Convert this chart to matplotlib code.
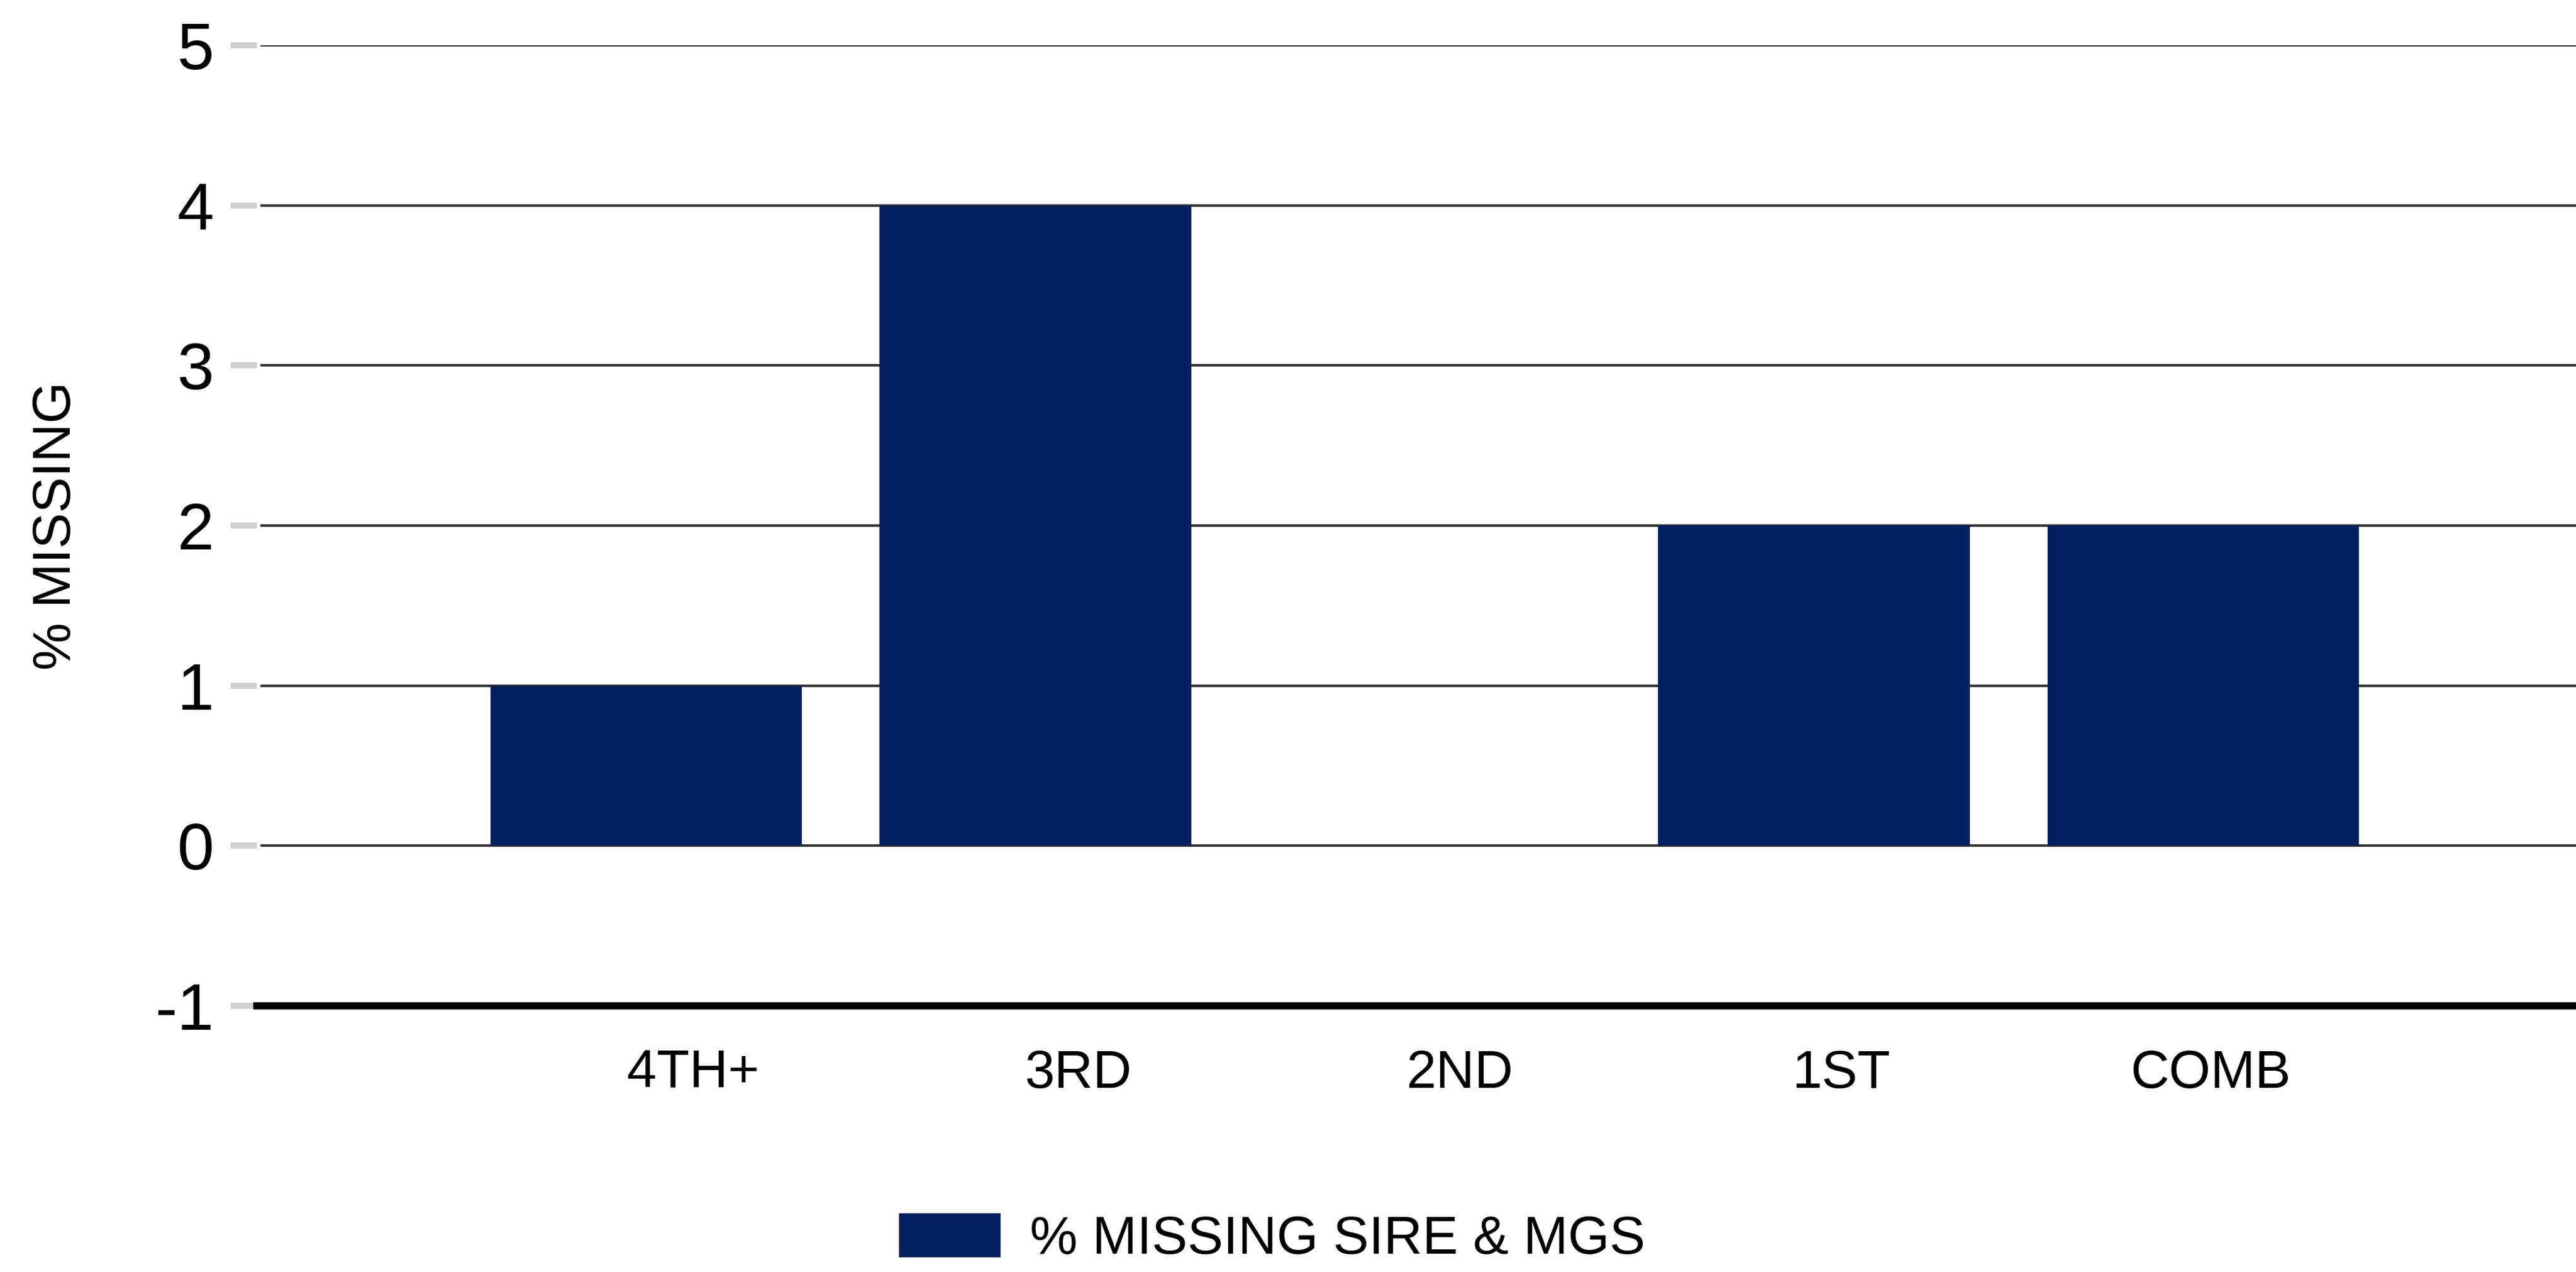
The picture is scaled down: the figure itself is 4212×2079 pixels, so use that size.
import matplotlib
matplotlib.use("Agg")
import matplotlib.pyplot as plt
import numpy as np

# ---- data ----
categories = ["4TH+", "3RD", "2ND", "1ST", "COMB"]
pct_missing = [1, 4, 0, 2, 2]
series_name = "% MISSING SIRE & MGS"
y_ticks = [-1, 0, 1, 2, 3, 4, 5]
y_label = "% MISSING"

# ---- style ----
plt.rcParams["font.family"] = ["Liberation Sans", "DejaVu Sans"]
BAR_COLOR = "#002060"
W, H, DPI = 4212, 2079, 300

fig = plt.figure(figsize=(W / DPI, H / DPI), dpi=DPI)
fig.patch.set_facecolor("white")

left_px, slot_px = 420, 636.5
ax = fig.add_axes([left_px / W, 1 - 1644 / H, 6 * slot_px / W, (1644 - 74) / H])

x = np.arange(1, len(categories) + 1)
ax.bar(x, pct_missing, width=0.8, color=BAR_COLOR, label=series_name, zorder=3)

ax.set_xlim(0, 6)
ax.set_ylim(-1, 5)

# gridlines (slight gap from tick marks)
for yv in y_ticks[1:]:
    ax.axhline(yv, xmin=0.002, xmax=1, color="#333333", lw=1.0, zorder=2)

# spines
for s in ["top", "right", "left"]:
    ax.spines[s].set_visible(False)
ax.spines["bottom"].set_color("black")
ax.spines["bottom"].set_linewidth(2.8)
ax.spines["bottom"].set_zorder(4)

ax.set_yticks(y_ticks)
ax.set_yticklabels([str(v) for v in y_ticks])
ax.tick_params(axis="y", length=10.3, width=2.4, color="#d0d0d0",
               pad=6.5, labelsize=26, labelcolor="black")

# category labels (slightly offset in the original rendering)
label_shift = [0.12, 0.11, 0.09, 0.07, 0.02]
ax.set_xticks(x + np.array(label_shift))
ax.set_xticklabels(categories)
ax.tick_params(axis="x", length=0, pad=17, labelsize=21, labelcolor="black")

ax.set_ylabel(y_label, fontsize=21, color="black")
ax.yaxis.set_label_coords(93 / W, 1 - 859 / H, transform=fig.transFigure)
ax.yaxis.label.set_verticalalignment("center")

leg = fig.legend(loc="center", bbox_to_anchor=(2080 / W, 1 - 2025 / H),
                 frameon=False, fontsize=21, handlelength=1.9,
                 handleheight=0.88, handletextpad=0.55, borderpad=0,
                 borderaxespad=0)

fig.savefig("out.png", dpi=DPI, facecolor="white")
